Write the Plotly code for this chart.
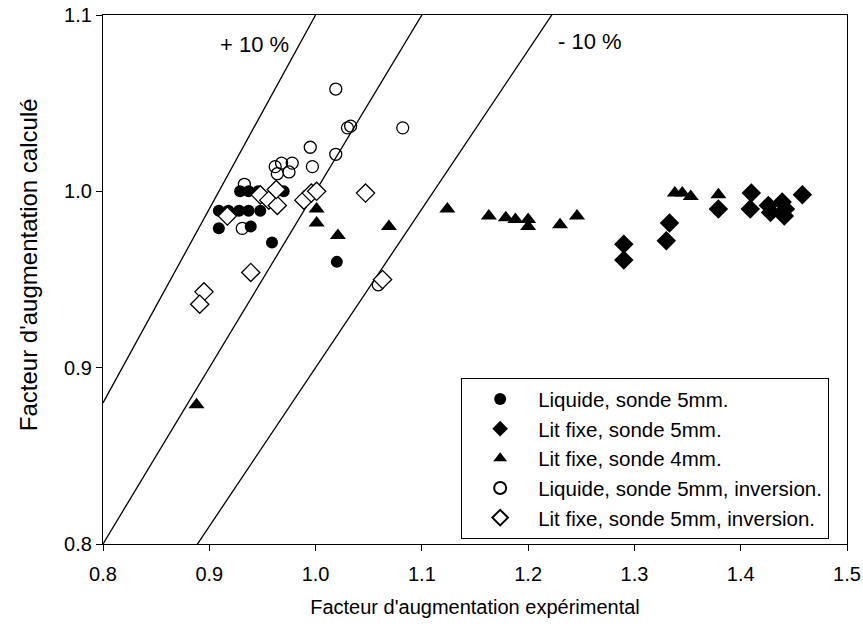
import plotly.graph_objects as go

# Liquide, sonde 5mm (filled circles)
liq5_x = [0.909, 0.918, 0.928, 0.937, 0.948, 0.929, 0.937, 0.946, 0.970, 0.909, 0.939, 0.959, 1.020]
liq5_y = [0.989, 0.989, 0.989, 0.989, 0.989, 1.000, 1.000, 1.000, 1.000, 0.979, 0.980, 0.971, 0.960]

# Lit fixe, sonde 5mm (filled diamonds)
lit5_x = [1.290, 1.290, 1.333, 1.330, 1.379, 1.410, 1.409, 1.426, 1.428, 1.439, 1.442, 1.441, 1.458]
lit5_y = [0.970, 0.961, 0.982, 0.972, 0.990, 0.999, 0.990, 0.992, 0.988, 0.994, 0.990, 0.986, 0.998]

# Lit fixe, sonde 4mm (filled triangles)
lit4_x = [0.888, 1.001, 1.001, 1.021, 1.069, 1.124, 1.163, 1.179, 1.188, 1.200, 1.200, 1.230, 1.246,
          1.338, 1.345, 1.353, 1.379]
lit4_y = [0.879, 0.990, 0.982, 0.975, 0.980, 0.990, 0.986, 0.985, 0.984, 0.984, 0.980, 0.981, 0.986,
          0.999, 0.999, 0.997, 0.998]

# Liquide, sonde 5mm, inversion (open circles)
liqinv_x = [1.019, 1.030, 1.033, 0.995, 0.997, 1.019, 1.082, 0.962, 0.968, 0.978, 0.964, 0.975,
            0.933, 0.931, 1.059]
liqinv_y = [1.058, 1.036, 1.037, 1.025, 1.014, 1.021, 1.036, 1.014, 1.016, 1.016, 1.010, 1.011,
            1.004, 0.979, 0.947]

# Lit fixe, sonde 5mm, inversion (open diamonds)
litinv_x = [0.917, 0.948, 0.956, 0.964, 0.963, 0.989, 0.996, 1.001, 1.047, 0.939, 0.895, 0.891, 1.063]
litinv_y = [0.986, 0.998, 0.995, 0.992, 1.001, 0.995, 0.999, 1.000, 0.999, 0.954, 0.943, 0.936, 0.950]

# reference lines y = k * x
ratios = [1.1, 1.0, 0.9]
x_range = [0.8, 1.5]
y_range = [0.8, 1.1]

font = "Liberation Sans, Arial, sans-serif"

fig = go.Figure()

for k in ratios:
    fig.add_trace(go.Scatter(
        x=x_range, y=[k * v for v in x_range], mode="lines",
        line=dict(color="black", width=1.3), showlegend=False, hoverinfo="skip"))

series = [
    ("Liquide, sonde 5mm.", liq5_x, liq5_y, dict(symbol="circle", size=12, color="black")),
    ("Lit fixe, sonde 5mm.", lit5_x, lit5_y, dict(symbol="diamond", size=15, color="black")),
    ("Lit fixe, sonde 4mm.", lit4_x, lit4_y, dict(symbol="triangle-up", size=14, color="black")),
    ("Liquide, sonde 5mm, inversion.", liqinv_x, liqinv_y,
     dict(symbol="circle-open", size=12, color="black", line=dict(width=1.3))),
    ("Lit fixe, sonde 5mm, inversion.", litinv_x, litinv_y,
     dict(symbol="diamond", size=14, color="white", line=dict(color="black", width=1.3))),
]
for name, xs, ys, mk in series:
    fig.add_trace(go.Scatter(x=xs, y=ys, mode="markers", name=name, marker=mk))

fig.add_annotation(x=0.943, y=1.083, text="+ 10 %", showarrow=False,
                   font=dict(size=22, color="black", family=font))
fig.add_annotation(x=1.258, y=1.085, text="- 10 %", showarrow=False,
                   font=dict(size=22, color="black", family=font))

# y title as an annotation (sits a bit above the axis centre in the original)
fig.add_annotation(xref="paper", yref="paper", x=0, y=0.527, xshift=-75,
                   xanchor="center", yanchor="middle",
                   text="Facteur d'augmentation calculé", textangle=-90, showarrow=False,
                   font=dict(size=24, color="black", family=font))

axis_common = dict(showline=True, linecolor="black", linewidth=1.3, mirror=True,
                   ticks="outside", ticklen=6, tickcolor="black", showgrid=False,
                   zeroline=False, automargin=False,
                   tickfont=dict(size=20, color="black", family=font))

fig.update_layout(
    width=863, height=635,
    margin=dict(l=103, r=16, t=15, b=91),
    plot_bgcolor="white", paper_bgcolor="white",
    font=dict(family=font, color="black"),
    xaxis=dict(range=x_range, dtick=0.1, tickformat=".1f", ticklabelstandoff=6,
               title=dict(text="Facteur d'augmentation expérimental",
                          font=dict(size=20, family=font), standoff=15),
               **axis_common),
    yaxis=dict(range=y_range, dtick=0.1, tickformat=".1f", **axis_common),
    legend=dict(x=0.481, y=0.314, xanchor="left", yanchor="top",
                bgcolor="white", bordercolor="black", borderwidth=1.3,
                font=dict(size=20.5, family=font, color="black"),
                itemsizing="constant", itemwidth=66),
)

# page body has a default 8px margin; remove it so the figure fills the window
fig.write_html("out.html", config={"displayModeBar": False},
               post_script="document.body.style.margin='0';")
